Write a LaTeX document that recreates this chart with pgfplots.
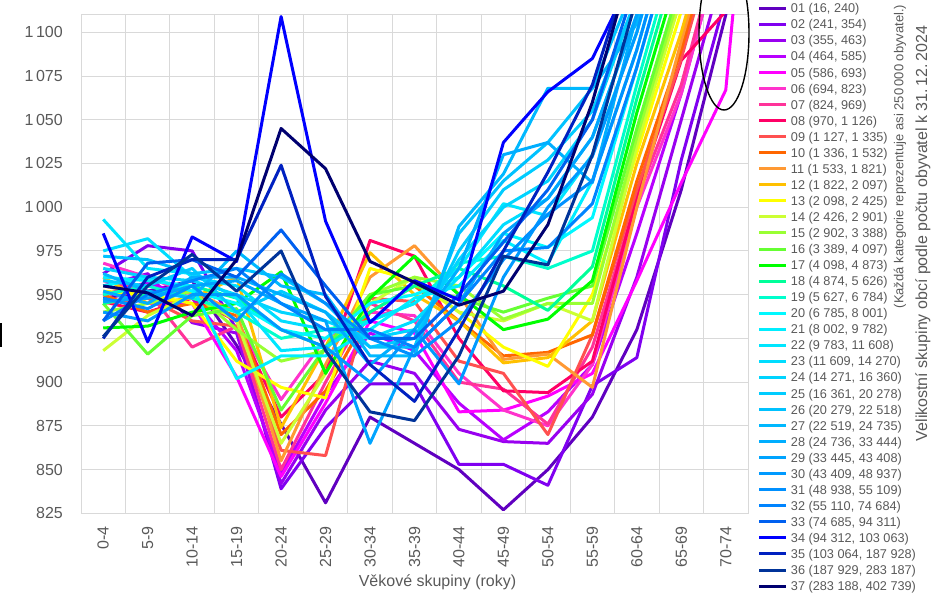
\documentclass[border=0pt]{standalone}
\usepackage{fontspec}
\setmainfont{Liberation Sans}
\usepackage{pgfplots}
\pgfplotsset{compat=1.18}
\definecolor{txt}{HTML}{595959}
\definecolor{grd}{HTML}{D9D9D9}
\definecolor{c01}{HTML}{6000C0}
\definecolor{c02}{HTML}{8000F0}
\definecolor{c03}{HTML}{9900F0}
\definecolor{c04}{HTML}{B800FF}
\definecolor{c05}{HTML}{FF00FF}
\definecolor{c06}{HTML}{FF33CC}
\definecolor{c07}{HTML}{FF3399}
\definecolor{c08}{HTML}{FF0066}
\definecolor{c09}{HTML}{FF5050}
\definecolor{c10}{HTML}{FF6600}
\definecolor{c11}{HTML}{FF9933}
\definecolor{c12}{HTML}{FFC000}
\definecolor{c13}{HTML}{FFFF00}
\definecolor{c14}{HTML}{CCFF33}
\definecolor{c15}{HTML}{99FF33}
\definecolor{c16}{HTML}{66FF33}
\definecolor{c17}{HTML}{00FF00}
\definecolor{c18}{HTML}{00FF99}
\definecolor{c19}{HTML}{00FFCC}
\definecolor{c20}{HTML}{00F8FF}
\definecolor{c21}{HTML}{00EEFF}
\definecolor{c22}{HTML}{00E6FF}
\definecolor{c23}{HTML}{00DDFF}
\definecolor{c24}{HTML}{00D4FF}
\definecolor{c25}{HTML}{00CCFF}
\definecolor{c26}{HTML}{00C2FF}
\definecolor{c27}{HTML}{00B8FF}
\definecolor{c28}{HTML}{00AEFF}
\definecolor{c29}{HTML}{00A4FF}
\definecolor{c30}{HTML}{009AFF}
\definecolor{c31}{HTML}{0090FF}
\definecolor{c32}{HTML}{0084FF}
\definecolor{c33}{HTML}{0060F0}
\definecolor{c34}{HTML}{0000FF}
\definecolor{c35}{HTML}{0020C0}
\definecolor{c36}{HTML}{003399}
\definecolor{c37}{HTML}{000070}
\begin{document}
\begin{tikzpicture}[x=1pt,y=1pt]
\path[use as bounding box] (0,0) rectangle (935,595);
\begin{axis}[
  at={(81pt,81.7pt)}, anchor=south west,
  width=667pt, height=498.5pt, scale only axis,
  xmin=-0.5, xmax=14.5, ymin=825, ymax=1110,
  xtick={0,...,14},
  xticklabels={0-4,5-9,10-14,15-19,20-24,25-29,30-34,35-39,40-44,45-49,50-54,55-59,60-64,65-69,70-74},
  minor xtick={-0.5,0.5,...,14.5},
  ytick={825,850,...,1100},
  scaled y ticks=false,
  xminorgrids, ymajorgrids,
  grid style={draw=grd, line width=0.9pt},
  minor grid style={draw=grd, line width=0.9pt},
  axis line style={draw=grd, line width=0.9pt},
  major tick length=0pt, minor tick length=0pt,
  tick style={draw=none},
  xticklabel style={font=\fontsize{16}{19}\selectfont, text=txt, yshift=-13pt, rotate=90, anchor=east, inner sep=0pt},
  yticklabel style={font=\fontsize{16}{19}\selectfont, text=txt, xshift=-18pt, anchor=east, inner sep=0pt},
  /pgf/number format/assume math mode=true,
  /pgf/number format/1000 sep={\,},
  legend style={at={(1.01499,1.0222)}, anchor=north west, draw=none, fill=none,
    inner sep=0pt, outer sep=0pt, font=\fontsize{12.7}{14}\selectfont, text=txt,
    row sep=6.95pt, column sep=3pt,
    nodes={inner sep=0pt, text height=9.1pt, text depth=0pt}},
  legend cell align=left,
  legend image code/.code={\draw[#1, line width=3pt] (0pt,0pt) -- (27pt,0pt);},
  every axis plot/.append style={line width=3pt, line join=round, mark=none},
]
\addplot[c01] coordinates {(0,948)(1,952)(2,958)(3,921)(4,876)(5,831)(6,880)(7,865)(8,850)(9,827)(10,850)(11,880)(12,930)(13,1010)(14,1110)(15,1250)};
\addlegendentry{01 (16, 240)}
\addplot[c02] coordinates {(0,962)(1,978)(2,975)(3,930)(4,839)(5,874)(6,899)(7,899)(8,853)(9,853)(10,841)(11,898)(12,914)(13,1027)(14,1120)(15,1260)};
\addlegendentry{02 (241, 354)}
\addplot[c03] coordinates {(0,955)(1,962)(2,934)(3,928)(4,842)(5,884)(6,912)(7,905)(8,873)(9,866)(10,865)(11,893)(12,960)(13,1050)(14,1140)(15,1280)};
\addlegendentry{03 (355, 463)}
\addplot[c04] coordinates {(0,950)(1,957)(2,948)(3,918)(4,848)(5,893)(6,928)(7,918)(8,888)(9,867)(10,883)(11,910)(12,985)(13,1065)(14,1160)(15,1300)};
\addlegendentry{04 (464, 585)}
\addplot[c05] coordinates {(0,952)(1,945)(2,945)(3,903)(4,846)(5,888)(6,935)(7,928)(8,883)(9,884)(10,892)(11,905)(12,958)(13,1014)(14,1067)(15,1337)};
\addlegendentry{05 (586, 693)}
\addplot[c06] coordinates {(0,968)(1,960)(2,950)(3,935)(4,890)(5,925)(6,940)(7,938)(8,905)(9,884)(10,875)(11,910)(12,1000)(13,1065)(14,1160)(15,1300)};
\addlegendentry{06 (694, 823)}
\addplot[c07] coordinates {(0,958)(1,952)(2,920)(3,932)(4,850)(5,900)(6,945)(7,935)(8,900)(9,896)(10,876)(11,920)(12,1005)(13,1070)(14,1165)(15,1310)};
\addlegendentry{07 (824, 969)}
\addplot[c08] coordinates {(0,946)(1,940)(2,948)(3,935)(4,880)(5,905)(6,981)(7,972)(8,925)(9,895)(10,894)(11,912)(12,1006)(13,1084)(14,1112)(15,1250)};
\addlegendentry{08 (970, 1 126)}
\addplot[c09] coordinates {(0,945)(1,948)(2,935)(3,932)(4,861)(5,858)(6,948)(7,946)(8,912)(9,905)(10,870)(11,927)(12,1010)(13,1085)(14,1175)(15,1300)};
\addlegendentry{09 (1 127, 1 335)}
\addplot[c10] coordinates {(0,950)(1,940)(2,945)(3,938)(4,870)(5,895)(6,940)(7,955)(8,935)(9,915)(10,917)(11,927)(12,1015)(13,1090)(14,1180)(15,1310)};
\addlegendentry{10 (1 336, 1 532)}
\addplot[c11] coordinates {(0,955)(1,950)(2,952)(3,940)(4,855)(5,910)(6,960)(7,978)(8,950)(9,913)(10,916)(11,897)(12,1000)(13,1095)(14,1185)(15,1310)};
\addlegendentry{11 (1 533, 1 821)}
\addplot[c12] coordinates {(0,960)(1,945)(2,948)(3,960)(4,874)(5,920)(6,974)(7,950)(8,935)(9,911)(10,914)(11,935)(12,1025)(13,1100)(14,1190)(15,1320)};
\addlegendentry{12 (1 822, 2 097)}
\addplot[c13] coordinates {(0,952)(1,950)(2,945)(3,912)(4,897)(5,891)(6,965)(7,958)(8,940)(9,920)(10,909)(11,950)(12,1031)(13,1112)(14,1200)(15,1320)};
\addlegendentry{13 (2 098, 2 425)}
\addplot[c14] coordinates {(0,918)(1,938)(2,950)(3,935)(4,865)(5,905)(6,945)(7,960)(8,940)(9,935)(10,945)(11,935)(12,1035)(13,1120)(14,1210)(15,1330)};
\addlegendentry{14 (2 426, 2 901)}
\addplot[c15] coordinates {(0,940)(1,945)(2,952)(3,930)(4,912)(5,918)(6,950)(7,960)(8,955)(9,936)(10,945)(11,945)(12,1040)(13,1125)(14,1210)(15,1330)};
\addlegendentry{15 (2 902, 3 388)}
\addplot[c16] coordinates {(0,945)(1,916)(2,938)(3,942)(4,884)(5,920)(6,950)(7,955)(8,948)(9,940)(10,948)(11,955)(12,1045)(13,1130)(14,1220)(15,1340)};
\addlegendentry{16 (3 389, 4 097)}
\addplot[c17] coordinates {(0,931)(1,932)(2,940)(3,945)(4,963)(5,905)(6,948)(7,972)(8,950)(9,930)(10,936)(11,958)(12,1054)(13,1140)(14,1230)(15,1340)};
\addlegendentry{17 (4 098, 4 873)}
\addplot[c18] coordinates {(0,945)(1,950)(2,955)(3,948)(4,930)(5,920)(6,940)(7,955)(8,965)(9,955)(10,941)(11,966)(12,1062)(13,1150)(14,1240)(15,1350)};
\addlegendentry{18 (4 874, 5 626)}
\addplot[c19] coordinates {(0,950)(1,955)(2,948)(3,940)(4,925)(5,930)(6,935)(7,945)(8,968)(9,972)(10,965)(11,975)(12,1070)(13,1160)(14,1250)(15,1360)};
\addlegendentry{19 (5 627, 6 784)}
\addplot[c20] coordinates {(0,955)(1,960)(2,952)(3,945)(4,930)(5,925)(6,945)(7,950)(8,960)(9,985)(10,977)(11,994)(12,1080)(13,1170)(14,1260)(15,1370)};
\addlegendentry{20 (6 785, 8 001)}
\addplot[c21] coordinates {(0,960)(1,958)(2,955)(3,902)(4,915)(5,915)(6,930)(7,948)(8,955)(9,981)(10,968)(11,1015)(12,1090)(13,1180)(14,1270)(15,1380)};
\addlegendentry{21 (8 002, 9 782)}
\addplot[c22] coordinates {(0,993)(1,965)(2,962)(3,948)(4,918)(5,920)(6,935)(7,945)(8,965)(9,1002)(10,995)(11,1030)(12,1100)(13,1190)(14,1280)(15,1390)};
\addlegendentry{22 (9 783, 11 608)}
\addplot[c23] coordinates {(0,975)(1,982)(2,960)(3,955)(4,935)(5,930)(6,925)(7,935)(8,960)(9,990)(10,1005)(11,1040)(12,1110)(13,1200)(14,1290)(15,1400)};
\addlegendentry{23 (11 609, 14 270)}
\addplot[c24] coordinates {(0,965)(1,960)(2,958)(3,950)(4,940)(5,935)(6,925)(7,930)(8,970)(9,1000)(10,1015)(11,1050)(12,1120)(13,1210)(14,1300)(15,1400)};
\addlegendentry{24 (14 271, 16 360)}
\addplot[c25] coordinates {(0,958)(1,955)(2,965)(3,940)(4,952)(5,940)(6,920)(7,925)(8,975)(9,1010)(10,1027)(11,1055)(12,1120)(13,1210)(14,1300)(15,1400)};
\addlegendentry{25 (16 361, 20 278)}
\addplot[c26] coordinates {(0,972)(1,970)(2,962)(3,965)(4,960)(5,945)(6,920)(7,920)(8,985)(9,1015)(10,1037)(11,1068)(12,1130)(13,1220)(14,1310)(15,1400)};
\addlegendentry{26 (20 279, 22 518)}
\addplot[c27] coordinates {(0,962)(1,952)(2,948)(3,975)(4,955)(5,950)(6,915)(7,915)(8,989)(9,1019)(10,1068)(11,1068)(12,1105)(13,1190)(14,1280)(15,1400)};
\addlegendentry{27 (22 519, 24 735)}
\addplot[c28] coordinates {(0,952)(1,945)(2,960)(3,960)(4,950)(5,940)(6,910)(7,930)(8,965)(9,1030)(10,1037)(11,1014)(12,1110)(13,1200)(14,1290)(15,1400)};
\addlegendentry{28 (24 736, 33 444)}
\addplot[c29] coordinates {(0,946)(1,948)(2,955)(3,958)(4,945)(5,935)(6,865)(7,920)(8,945)(9,985)(10,1005)(11,1040)(12,1110)(13,1200)(14,1290)(15,1400)};
\addlegendentry{29 (33 445, 43 408)}
\addplot[c30] coordinates {(0,940)(1,935)(2,950)(3,950)(4,930)(5,920)(6,900)(7,930)(8,899)(9,960)(10,1000)(11,1029)(12,1100)(13,1190)(14,1280)(15,1400)};
\addlegendentry{30 (43 409, 48 937)}
\addplot[c31] coordinates {(0,948)(1,942)(2,955)(3,935)(4,962)(5,945)(6,925)(7,915)(8,935)(9,970)(10,996)(11,1015)(12,1090)(13,1180)(14,1270)(15,1400)};
\addlegendentry{31 (48 938, 55 109)}
\addplot[c32] coordinates {(0,935)(1,950)(2,958)(3,965)(4,945)(5,930)(6,930)(7,920)(8,945)(9,975)(10,977)(11,1002)(12,1080)(13,1170)(14,1260)(15,1400)};
\addlegendentry{32 (55 110, 74 684)}
\addplot[c33] coordinates {(0,935)(1,968)(2,970)(3,960)(4,987)(5,955)(6,925)(7,925)(8,950)(9,980)(10,1010)(11,1050)(12,1130)(13,1220)(14,1300)(15,1400)};
\addlegendentry{33 (74 685, 94 311)}
\addplot[c34] coordinates {(0,985)(1,923)(2,983)(3,969)(4,1109)(5,992)(6,934)(7,958)(8,947)(9,1037)(10,1066)(11,1085)(12,1137)(13,1200)(14,1260)(15,1380)};
\addlegendentry{34 (94 312, 103 063)}
\addplot[c35] coordinates {(0,925)(1,960)(2,970)(3,970)(4,1024)(5,949)(6,910)(7,889)(8,930)(9,975)(10,1020)(11,1070)(12,1150)(13,1230)(14,1300)(15,1400)};
\addlegendentry{35 (103 064, 187 928)}
\addplot[c36] coordinates {(0,926)(1,955)(2,973)(3,952)(4,975)(5,918)(6,883)(7,878)(8,915)(9,972)(10,967)(11,1030)(12,1120)(13,1200)(14,1280)(15,1400)};
\addlegendentry{36 (187 929, 283 187)}
\addplot[c37] coordinates {(0,955)(1,951)(2,938)(3,970)(4,1045)(5,1022)(6,969)(7,957)(8,944)(9,952)(10,990)(11,1060)(12,1150)(13,1230)(14,1300)(15,1400)};
\addlegendentry{37 (283 188, 402 739)}
\end{axis}
\node[anchor=base, text=txt, font=\fontsize{16}{19}\selectfont, inner sep=0pt] at (437.5,8.3) {Věkové skupiny (roky)};
\node[rotate=90, text=txt, font=\fontsize{16}{19}\selectfont, inner sep=0pt] at (923,361.5) {Velikostní skupiny obcí podle počtu obyvatel k 31.\,12.\,2024};
\node[rotate=90, text=txt, font=\fontsize{13}{15}\selectfont, inner sep=0pt] at (900,438.5) {(Každá kategorie reprezentuje asi 250\,000 obyvatel.)};
\draw[black, line width=1.4pt] (724,562) ellipse [x radius=25, y radius=77];
\fill[black] (0,248) rectangle (2.2,272);
\end{tikzpicture}
\end{document}
